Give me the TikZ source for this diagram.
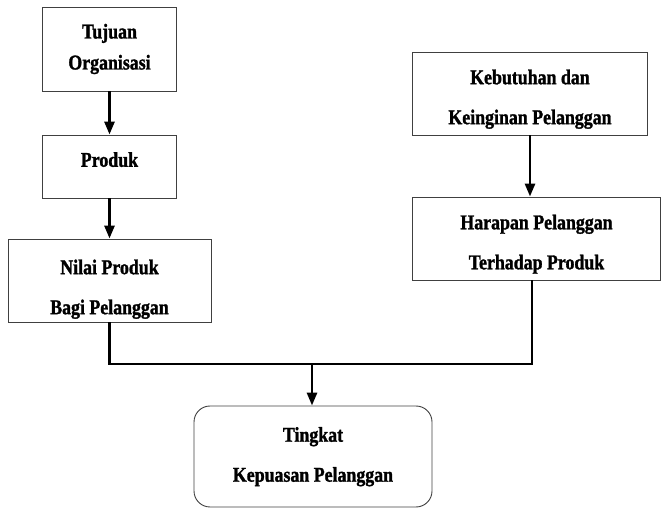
\documentclass[tikz,border=0pt]{standalone}
\usepackage{fontspec}
\setmainfont{Liberation Serif}[FakeStretch=0.85, BoldFeatures={FakeBold=1.4}]
\usetikzlibrary{arrows.meta}
\newcommand{\ganjal}[1]{\rule{0pt}{#1}}
\begin{document}
\begin{tikzpicture}[x=1pt,y=-1pt,>={Triangle[length=13pt,width=10pt]},
  kotak/.style={draw=black!75, line width=0.9pt, rectangle, inner sep=0pt, align=center,
    font=\bfseries\fontsize{21}{40}\selectfont},
  garis/.style={line width=2.8pt}]
\useasboundingbox (0,0) rectangle (662,510);
\node[kotak, minimum width=134pt, minimum height=84pt, font=\bfseries\fontsize{21}{31}\selectfont] (tujuan) at (109.5,49) {Tujuan\\Organisasi};
\node[kotak, minimum width=134pt, minimum height=63pt, text depth=14pt] (produk) at (109.5,166.5) {Produk};
\node[kotak, minimum width=203pt, minimum height=83pt] (nilai) at (109.5,280.5) {\ganjal{32pt}Nilai Produk\\Bagi Pelanggan};
\node[kotak, minimum width=235.5pt, minimum height=83pt] (kebutuhan) at (530,93.5) {\ganjal{26pt}Kebutuhan dan\\Keinginan Pelanggan};
\node[kotak, minimum width=248pt, minimum height=83pt] (harapan) at (536.5,238.5) {\ganjal{26pt}Harapan Pelanggan\\Terhadap Produk};
\node[kotak, rounded corners=16pt, minimum width=238pt, minimum height=101pt] (tingkat) at (313,456.5) {\ganjal{15pt}Tingkat\\Kepuasan Pelanggan};
\coordinate (gabung) at (312,364);
\draw[garis,->] (tujuan) -- (produk);
\draw[garis,->] (produk) -- (nilai);
\draw[garis,->] (kebutuhan.south) -- (kebutuhan.south |- harapan.north);
\draw[garis] (nilai.south) |- (gabung) -| ([xshift=2pt]kebutuhan.south |- harapan.south);
\draw[garis,->] (gabung) -- (gabung |- tingkat.north);
\end{tikzpicture}
\end{document}
